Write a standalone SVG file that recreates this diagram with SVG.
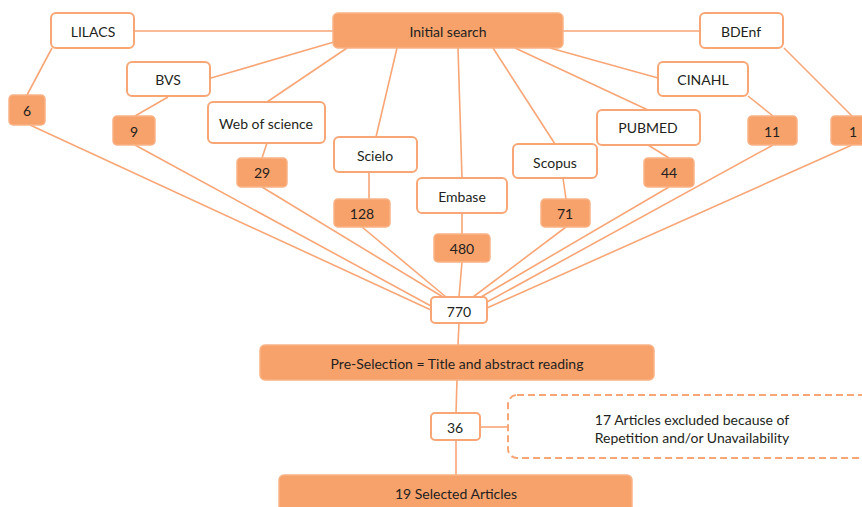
<svg xmlns="http://www.w3.org/2000/svg" width="862" height="507" viewBox="0 0 862 507">
<style>
.w{fill:#fff;stroke:#F8A676;stroke-width:2}
.o{fill:#F7A26B;stroke:#F9B286;stroke-width:1.5}
.d{fill:#fff;stroke:#F8A676;stroke-width:2;stroke-dasharray:7 4}
text{font-family:Lato,"Open Sans","Liberation Sans",sans-serif;font-size:14px;fill:#231F20;text-anchor:middle;dominant-baseline:central}
#connectors line{stroke:#F8A676;stroke-width:1.6}
</style>
<rect width="862" height="507" fill="#fff"/>
<g id="connectors">
<line x1="333" y1="31" x2="134" y2="31"/>
<line x1="563" y1="31" x2="700" y2="31"/>
<line x1="334" y1="42" x2="211" y2="78"/>
<line x1="347" y1="48" x2="267" y2="102"/>
<line x1="397" y1="48" x2="376" y2="137"/>
<line x1="458" y1="48" x2="462" y2="178"/>
<line x1="493" y1="48" x2="555" y2="144"/>
<line x1="515" y1="48" x2="648" y2="110"/>
<line x1="550" y1="48" x2="658" y2="78"/>
<line x1="52" y1="48" x2="27" y2="95"/>
<line x1="168" y1="97" x2="135" y2="116"/>
<line x1="267" y1="143" x2="262" y2="158"/>
<line x1="369" y1="172" x2="369" y2="199"/>
<line x1="462" y1="213" x2="462" y2="234"/>
<line x1="563" y1="178" x2="566" y2="199"/>
<line x1="648" y1="145" x2="669" y2="158"/>
<line x1="748" y1="96" x2="773" y2="116"/>
<line x1="784" y1="48" x2="852" y2="116"/>
<line x1="30" y1="125" x2="431" y2="310"/>
<line x1="135" y1="145" x2="431" y2="306"/>
<line x1="262" y1="187" x2="443" y2="297"/>
<line x1="362" y1="227" x2="446" y2="297"/>
<line x1="462" y1="262" x2="459" y2="297"/>
<line x1="566" y1="227" x2="473" y2="297"/>
<line x1="669" y1="187" x2="481" y2="297"/>
<line x1="773" y1="145" x2="487" y2="302"/>
<line x1="852" y1="145" x2="487" y2="308"/>
<line x1="459" y1="323" x2="458" y2="345"/>
<line x1="457" y1="380" x2="456" y2="413"/>
<line x1="456" y1="440" x2="456" y2="475"/>
<line x1="481" y1="427" x2="508" y2="427"/>
</g>
<g id="initial"><rect class="o" x="333" y="13" width="230" height="35" rx="5"/><text x="448" y="31">Initial search</text></g>
<g id="lilacs"><rect class="w" x="51" y="13" width="83" height="35" rx="5"/><text x="93" y="31">LILACS</text></g>
<g id="bdenf"><rect class="w" x="700" y="13" width="83" height="35" rx="5"/><text x="741" y="31">BDEnf</text></g>
<g id="bvs"><rect class="w" x="127" y="62" width="83" height="34" rx="5"/><text x="168" y="79">BVS</text></g>
<g id="cinahl"><rect class="w" x="658" y="62" width="90" height="34" rx="5"/><text x="703" y="79">CINAHL</text></g>
<g id="wos"><rect class="w" x="208" y="102" width="117" height="41" rx="5"/><text x="266" y="123">Web of science</text></g>
<g id="pubmed"><rect class="w" x="597" y="110" width="103" height="35" rx="5"/><text x="648" y="127">PUBMED</text></g>
<g id="scielo"><rect class="w" x="334" y="137" width="83" height="35" rx="5"/><text x="375" y="155">Scielo</text></g>
<g id="scopus"><rect class="w" x="513" y="144" width="84" height="34" rx="5"/><text x="555" y="162">Scopus</text></g>
<g id="embase"><rect class="w" x="417" y="178" width="90" height="35" rx="5"/><text x="462" y="196">Embase</text></g>
<g id="n6"><rect class="o" x="9" y="95" width="36" height="30" rx="4"/><text x="27" y="110">6</text></g>
<g id="n9"><rect class="o" x="113" y="116" width="42" height="29" rx="4"/><text x="134" y="131">9</text></g>
<g id="n29"><rect class="o" x="237" y="158" width="50" height="29" rx="4"/><text x="262" y="172">29</text></g>
<g id="n128"><rect class="o" x="334" y="199" width="56" height="28" rx="4"/><text x="362" y="213">128</text></g>
<g id="n480"><rect class="o" x="434" y="234" width="56" height="28" rx="4"/><text x="462" y="248">480</text></g>
<g id="n71"><rect class="o" x="541" y="199" width="49" height="28" rx="4"/><text x="565" y="213">71</text></g>
<g id="n44"><rect class="o" x="644" y="158" width="50" height="29" rx="4"/><text x="669" y="172">44</text></g>
<g id="n11"><rect class="o" x="748" y="116" width="49" height="29" rx="4"/><text x="772" y="131">11</text></g>
<g id="n1"><rect class="o" x="831" y="116" width="49" height="29" rx="4"/><text x="853" y="131">1</text></g>
<g id="n770"><rect class="w" x="431" y="297" width="56" height="26" rx="4"/><text x="459" y="311">770</text></g>
<g id="preselection"><rect class="o" x="260" y="345" width="394" height="35" rx="5"/><text x="457" y="363">Pre-Selection = Title and abstract reading</text></g>
<g id="n36"><rect class="w" x="431" y="413" width="49" height="27" rx="4"/><text x="455" y="427">36</text></g>
<g id="excluded"><rect class="d" x="508" y="395" width="400" height="63" rx="9"/><text x="692" y="419">17 Articles excluded because of</text><text x="692" y="437">Repetition and/or Unavailability</text></g>
<g id="selected"><rect class="o" x="279" y="475" width="353" height="45" rx="5"/><text x="456" y="493">19 Selected Articles</text></g>
</svg>
